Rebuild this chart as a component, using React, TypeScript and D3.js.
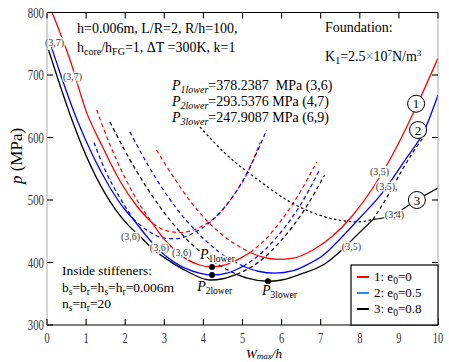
import React from 'react';
import * as d3 from 'd3';

type Pt = [number, number];

const xTicks = [0, 1, 2, 3, 4, 5, 6, 7, 8, 9, 10];
const yTicks = [300, 400, 500, 600, 700, 800];

// 1: e0=0 (red) — solid envelope pieces, then the dashed continuations of each mode
const red37: Pt[] = [[0.13, 800], [0.59, 724], [1.02, 639], [1.43, 584], [1.87, 530], [2.3, 490], [2.71, 462]];
const red36: Pt[] = [[2.71, 462], [3.0, 437], [3.2, 424], [3.53, 407], [3.9, 396], [4.22, 393], [4.6, 397], [4.95, 407], [5.2, 416]];
const red35: Pt[] = [[5.2, 416], [5.5, 409], [5.9, 405], [6.3, 407], [6.8, 420], [7.3, 442], [7.8, 474], [8.3, 516], [8.8, 568], [9.3, 630], [10, 727]];
const red37Dash: Pt[] = [[2.71, 462], [3.0, 452], [3.4, 448], [3.9, 456], [4.4, 478], [4.8, 510], [5.1, 540], [5.45, 592]];
const red36DashL: Pt[] = [[1.27, 644], [1.6, 590], [2.0, 535], [2.4, 490], [2.71, 462]];
const red36DashR: Pt[] = [[5.2, 416], [5.6, 438], [6.0, 468], [6.4, 505], [6.9, 561]];
const red35DashL: Pt[] = [[2.8, 580], [3.2, 540], [3.74, 492], [4.2, 460], [4.7, 434], [5.2, 416]];

// 2: e0=0.5 (blue)
const blue37: Pt[] = [[0.03, 761], [0.33, 704], [0.77, 628], [1.18, 570], [1.61, 520], [2.0, 484], [2.2, 470]];
const blue36: Pt[] = [[2.2, 470], [2.63, 436], [2.97, 414], [3.53, 391], [3.9, 383], [4.22, 380], [4.6, 383], [5.02, 394]];
const blue35: Pt[] = [[5.02, 394], [5.4, 386], [5.83, 383], [6.3, 387], [6.7, 398], [7.03, 410], [7.5, 438], [7.95, 468], [8.57, 511], [9.16, 564], [9.67, 614], [10, 668]];
const blue37Dash: Pt[] = [[2.2, 470], [2.6, 450], [3.0, 439], [3.3, 438], [3.8, 449], [4.4, 478], [5.0, 530], [5.62, 612]];
const blue36DashL: Pt[] = [[1.2, 592], [1.5, 546], [1.85, 505], [2.2, 470]];
const blue36DashR: Pt[] = [[5.02, 394], [5.5, 416], [6.0, 450], [6.5, 494], [6.97, 548]];
const blue35DashL: Pt[] = [[2.12, 609], [2.6, 554], [3.27, 490], [3.8, 451], [4.4, 417], [5.02, 394]];

// 3: e0=0.8 (black)
const black37: Pt[] = [[0.03, 742], [0.64, 628], [1.0, 571], [1.5, 509], [2.0, 465], [2.38, 442]];
const black36: Pt[] = [[2.38, 442], [2.7, 422], [3.07, 405], [3.58, 386], [4.17, 372], [4.5, 374], [4.85, 381]];
const black35: Pt[] = [[4.85, 381], [5.12, 375], [5.65, 370], [6.0, 372], [6.47, 381], [7.11, 398], [7.54, 420], [7.88, 441], [8.34, 469]];
const black34: Pt[] = [[8.34, 469], [8.64, 472], [9.0, 482], [9.46, 500], [10, 519]];
const black36DashR: Pt[] = [[4.85, 381], [5.4, 400], [6.0, 436], [6.6, 486], [7.1, 540]];
const black35DashL: Pt[] = [[1.61, 625], [2.0, 578], [2.5, 525], [2.89, 489], [3.5, 442], [4.2, 404], [4.85, 381]];
const black35DashR: Pt[] = [[8.34, 469], [8.7, 505], [9.1, 550], [9.4, 580], [9.72, 609]];
const black34Dot: Pt[] = [[3.91, 617], [4.55, 575], [5.4, 532], [6.27, 495], [7.11, 473], [7.95, 465], [8.34, 469]];

// lowest points (dots)
const lowerPts: Pt[] = [[4.22, 393], [4.22, 380], [5.65, 370]];

// mode labels on the curves
const modeLabels: { t: string; at: Pt }[] = [
  { t: '(3,7)', at: [-0.05, 746] },
  { t: '(3,7)', at: [0.41, 692] },
  { t: '(3,6)', at: [1.89, 436] },
  { t: '(3,6)', at: [2.63, 418] },
  { t: '(3,6)', at: [3.2, 410] },
  { t: '(3,5)', at: [8.26, 540] },
  { t: '(3,5),', at: [8.41, 516] },
  { t: '(3,5)', at: [7.54, 420] },
  { t: '(3,4)', at: [8.64, 471] },
];

const circleLabels: { t: string; at: Pt }[] = [
  { t: '1', at: [9.44, 654] },
  { t: '2', at: [9.49, 612] },
  { t: '3', at: [9.46, 500] },
];

const RED = '#ff0000';
const BLUE = '#0000ff';
const BLACK = '#000000';

const legendItems = [
  { n: '1', e: '0', c: RED },
  { n: '2', e: '0.5', c: '#2a8cf0' },
  { n: '3', e: '0.8', c: BLACK },
];

const FONT = '"Liberation Serif", "DejaVu Serif", serif';

const App: React.FC = () => {
  const W = 449;
  const H = 362;
  const x = d3.scaleLinear().domain([0, 10]).range([47, 438]);
  const y = d3.scaleLinear().domain([300, 800]).range([325, 12.5]);

  const line = d3
    .line<Pt>()
    .x(d => x(d[0]))
    .y(d => y(d[1]))
    .curve(d3.curveMonotoneX);

  const curves: { pts: Pt[]; c: string; dash?: string }[] = [
    { pts: red36DashL, c: RED, dash: '4,3' },
    { pts: red37Dash, c: RED, dash: '4,3' },
    { pts: red36DashR, c: RED, dash: '4,3' },
    { pts: red35DashL, c: RED, dash: '4,3' },
    { pts: blue36DashL, c: BLUE, dash: '4,3' },
    { pts: blue37Dash, c: BLUE, dash: '4,3' },
    { pts: blue36DashR, c: BLUE, dash: '4,3' },
    { pts: blue35DashL, c: BLUE, dash: '4,3' },
    { pts: black36DashR, c: BLACK, dash: '4,3' },
    { pts: black35DashL, c: BLACK, dash: '4,3' },
    { pts: black35DashR, c: BLACK, dash: '3.5,3' },
    { pts: black34Dot, c: BLACK, dash: '2.5,2.5' },
    { pts: red37, c: RED },
    { pts: red36, c: RED },
    { pts: red35, c: RED },
    { pts: blue37, c: BLUE },
    { pts: blue36, c: BLUE },
    { pts: blue35, c: BLUE },
    { pts: black37, c: BLACK },
    { pts: black36, c: BLACK },
    { pts: black35, c: BLACK },
    { pts: black34, c: BLACK },
  ];

  const [x0, x1] = x.range();
  const [yb, yt] = y.range();

  return (
    <svg
      width={W}
      height={H}
      style={{ position: 'absolute', left: 0, top: 0, background: '#fff' }}
      fontFamily={FONT}
    >
      <defs>
        <clipPath id="plot">
          <rect x={x0} y={yt} width={x1 - x0} height={yb - yt} />
        </clipPath>
      </defs>

      <g clipPath="url(#plot)">
        {curves.map((cv, i) => (
          <path
            key={i}
            d={line(cv.pts) || ''}
            fill="none"
            stroke={cv.c}
            strokeWidth={cv.dash ? 1.2 : 1.3}
            strokeDasharray={cv.dash}
          />
        ))}
      </g>

      {/* mode labels, with white halo that breaks the lines */}
      {modeLabels.map((m, i) => (
        <text
          key={i}
          x={x(m.at[0])}
          y={y(m.at[1])}
          fontSize={10}
          fill="#333"
          stroke="#fff"
          strokeWidth={2.5}
          paintOrder="stroke"
        >
          {m.t}
        </text>
      ))}

      {circleLabels.map((c, i) => (
        <g key={i}>
          <circle cx={x(c.at[0])} cy={y(c.at[1])} r={8.5} fill="#fff" stroke="#000" strokeWidth={1} />
          <text x={x(c.at[0])} y={y(c.at[1]) + 4.5} fontSize={13} textAnchor="middle">
            {c.t}
          </text>
        </g>
      ))}

      {lowerPts.map((p, i) => (
        <circle key={i} cx={x(p[0])} cy={y(p[1])} r={3} fill="#000" />
      ))}

      {/* P lower labels near the dots */}
      <text x={x(3.91)} y={y(406)} fontSize={14} stroke="#fff" strokeWidth={2.5} paintOrder="stroke">
        <tspan fontStyle="italic">P</tspan>
        <tspan fontSize={9.5} dy={3}>1lower</tspan>
      </text>
      <text x={x(3.84)} y={y(354)} fontSize={14} stroke="#fff" strokeWidth={2.5} paintOrder="stroke">
        <tspan fontStyle="italic">P</tspan>
        <tspan fontSize={9.5} dy={3}>2lower</tspan>
      </text>
      <text x={x(5.5)} y={y(348)} fontSize={14} stroke="#fff" strokeWidth={2.5} paintOrder="stroke">
        <tspan fontStyle="italic">P</tspan>
        <tspan fontSize={9.5} dy={3}>3lower</tspan>
      </text>

      {/* frame */}
      <line x1={x0} x2={x1} y1={yt} y2={yt} stroke="#000" strokeWidth={1.2} />
      <line x1={x0} x2={x1} y1={yb} y2={yb} stroke="#000" strokeWidth={1.2} />
      <line x1={x0} x2={x0} y1={yt} y2={yb} stroke="#aaa" strokeWidth={1} />
      <line x1={x1} x2={x1} y1={yt} y2={yb} stroke="#aaa" strokeWidth={1} />

      {xTicks.map(t => (
        <g key={t}>
          <line x1={x(t)} x2={x(t)} y1={yb} y2={yb - 6} stroke="#000" strokeWidth={1.1} />
          <line x1={x(t)} x2={x(t)} y1={yt} y2={yt + 6} stroke="#000" strokeWidth={1.1} />
          <text transform={`translate(${x(t)},343) scale(0.72,1)`} textAnchor="middle" fontSize={14.5} fill="#333">
            {t}
          </text>
        </g>
      ))}
      {yTicks.map(t => (
        <g key={t}>
          <line x1={x0} x2={x0 + 6} y1={y(t)} y2={y(t)} stroke="#000" strokeWidth={1.1} />
          <line x1={x1} x2={x1 - 6} y1={y(t)} y2={y(t)} stroke="#000" strokeWidth={1.1} />
          <text transform={`translate(44,${y(t) + 5}) scale(0.72,1)`} textAnchor="end" fontSize={15} fill="#333">
            {t}
          </text>
        </g>
      ))}

      {/* axis titles */}
      <text transform="translate(22,156) rotate(-90)" textAnchor="middle" fontSize={17}>
        <tspan fontStyle="italic">p</tspan> (MPa)
      </text>
      <text x={246} y={357.5} fontSize={13} fontStyle="italic">
        W<tspan fontSize={9} dy={1.5}>max</tspan>
        <tspan dy={-1.5}>/h</tspan>
      </text>

      {/* parameter notes */}
      <text x={77} y={33} fontSize={14}>h=0.006m, L/R=2, R/h=100,</text>
      <text x={77} y={52} fontSize={14}>
        h<tspan fontSize={10} dy={3}>core</tspan>
        <tspan dy={-3}>/h</tspan>
        <tspan fontSize={10} dy={3}>FG</tspan>
        <tspan dy={-3}>=1, ΔT =300K, k=1</tspan>
      </text>
      <text x={325} y={32} fontSize={14}>Foundation:</text>
      <text x={325} y={61} fontSize={14}>
        K<tspan fontSize={10} dy={3}>1</tspan>
        <tspan dy={-3}>=2.5</tspan>
        <tspan fill="#6b8fc9">×</tspan>
        <tspan>10</tspan>
        <tspan fontSize={9} dy={-5}>7</tspan>
        <tspan dy={5}>N/m</tspan>
        <tspan fontSize={9} dy={-5}>3</tspan>
      </text>

      {[
        { s: '1lower', v: '=378.2387  MPa (3,6)', yy: 90 },
        { s: '2lower', v: '=293.5376 MPa (4,7)', yy: 106 },
        { s: '3lower', v: '=247.9087 MPa (6,9)', yy: 122 },
      ].map(r => (
        <text key={r.s} x={172} y={r.yy} fontSize={14} xmlSpace="preserve">
          <tspan fontStyle="italic">P</tspan>
          <tspan fontStyle="italic" fontSize={10} dy={3}>{r.s}</tspan>
          <tspan dy={-3}>{r.v}</tspan>
        </text>
      ))}

      <text x={62} y={275} fontSize={13.5}>Inside stiffeners:</text>
      <text x={62} y={292} fontSize={13.5}>
        b<tspan fontSize={9.5} dy={3}>s</tspan>
        <tspan dy={-3}>=b</tspan>
        <tspan fontSize={9.5} dy={3}>r</tspan>
        <tspan dy={-3}>=h</tspan>
        <tspan fontSize={9.5} dy={3}>s</tspan>
        <tspan dy={-3}>=h</tspan>
        <tspan fontSize={9.5} dy={3}>r</tspan>
        <tspan dy={-3}>=0.006m</tspan>
      </text>
      <text x={62} y={308} fontSize={13.5}>
        n<tspan fontSize={9.5} dy={3}>s</tspan>
        <tspan dy={-3}>=n</tspan>
        <tspan fontSize={9.5} dy={3}>r</tspan>
        <tspan dy={-3}>=20</tspan>
      </text>

      {/* legend */}
      <rect x={351} y={265} width={87} height={60} fill="#fff" stroke="#000" strokeWidth={1.2} />
      {legendItems.map((l, i) => (
        <g key={l.n}>
          <line x1={357} x2={369} y1={277 + i * 16} y2={277 + i * 16} stroke={l.c} strokeWidth={2} />
          <text x={374} y={281 + i * 16} fontSize={13}>
            {l.n}: e<tspan fontSize={9.5} dy={3}>0</tspan>
            <tspan dy={-3}>={l.e}</tspan>
          </text>
        </g>
      ))}
    </svg>
  );
};

export default App;
